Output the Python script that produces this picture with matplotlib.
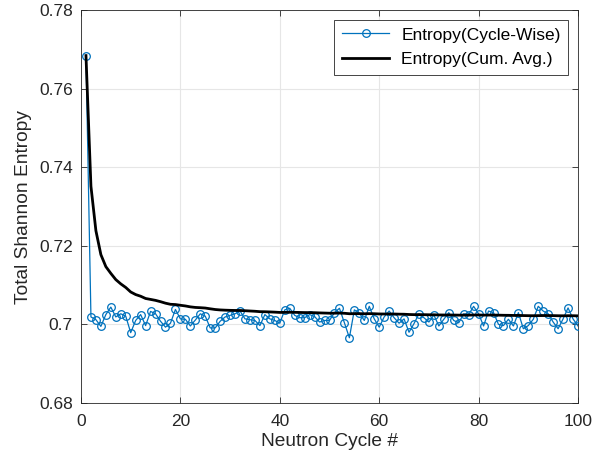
import numpy as np
import matplotlib
matplotlib.use("Agg")
import matplotlib.pyplot as plt
from matplotlib.ticker import FuncFormatter

plt.rcParams['font.family'] = ['Liberation Sans', 'DejaVu Sans']

# Shannon entropy of the fission source, one value per neutron cycle
cycles = list(range(1, 101))
entropy_cycle = [
    0.7684, 0.7019, 0.7012, 0.6995, 0.7025, 0.7044, 0.7019, 0.7027, 0.7021, 0.6979,
    0.7010, 0.7025, 0.6997, 0.7033, 0.7027, 0.7008, 0.6993, 0.7003, 0.7038, 0.7014,
    0.7013, 0.6996, 0.7011, 0.7027, 0.7021, 0.6991, 0.6991, 0.7008, 0.7019, 0.7023,
    0.7027, 0.7034, 0.7014, 0.7012, 0.7010, 0.6997, 0.7025, 0.7014, 0.7010, 0.7003,
    0.7037, 0.7041, 0.7023, 0.7017, 0.7017, 0.7025, 0.7020, 0.7006, 0.7010, 0.7010,
    0.7030, 0.7041, 0.7004, 0.6966, 0.7037, 0.7029, 0.7010, 0.7046, 0.7014, 0.6993,
    0.7019, 0.7034, 0.7017, 0.7003, 0.7014, 0.6980, 0.7002, 0.7027, 0.7017, 0.7006,
    0.7024, 0.6996, 0.7013, 0.7030, 0.7010, 0.7004, 0.7027, 0.7025, 0.7046, 0.7027,
    0.6996, 0.7034, 0.7030, 0.7000, 0.6997, 0.7013, 0.6996, 0.7030, 0.6989, 0.6997,
    0.7013, 0.7046, 0.7034, 0.7027, 0.7006, 0.6989, 0.7014, 0.7042, 0.7014, 0.6996,
]

# Running (cumulative) average over the cycles so far
vals = np.array(entropy_cycle)
entropy_cum = np.cumsum(vals) / np.arange(1, len(vals) + 1)

x_ticks = [0, 20, 40, 60, 80, 100]
y_ticks = [0.68, 0.70, 0.72, 0.74, 0.76, 0.78]

fig = plt.figure(figsize=(5.93, 4.59), dpi=100)
ax = fig.add_axes([81 / 593, 1 - 403 / 459, (578 - 81) / 593, (403 - 10) / 459])

blue = '#0072BD'
ax.plot(cycles, entropy_cycle, color=blue, lw=0.9, marker='o', ms=5.5,
        mfc='none', mec=blue, mew=0.9, label='Entropy(Cycle-Wise)', zorder=3)
ax.plot(cycles, entropy_cum, color='black', lw=2.0, label='Entropy(Cum. Avg.)', zorder=4)

ax.set_xlim(0, 100)
ax.set_ylim(0.68, 0.78)
ax.set_xticks(x_ticks)
ax.set_yticks(y_ticks)
ax.yaxis.set_major_formatter(FuncFormatter(lambda v, p: f"{v:g}"))

ax.grid(True, color='#e6e6e6', lw=0.8)
ax.set_axisbelow(True)
for s in ax.spines.values():
    s.set_color('#262626')
    s.set_linewidth(0.6)
ax.tick_params(direction='in', length=4, width=0.6, colors='#262626',
               labelsize=12.5, top=True, right=True, pad=6)
ax.tick_params(axis='x', pad=8)

ax.set_xlabel('Neutron Cycle #', fontsize=13.8, color='#262626', labelpad=3)
ax.set_ylabel('Total Shannon Entropy', fontsize=13.8, color='#262626', labelpad=5)

leg = ax.legend(loc='upper right', fontsize=12.5, frameon=True, fancybox=False,
                edgecolor='#262626', framealpha=1, borderpad=0.45,
                handlelength=2.7, handletextpad=0.7, labelspacing=0.55,
                borderaxespad=0.55)
leg.get_frame().set_linewidth(0.6)

fig.savefig('out.png', dpi=100)
